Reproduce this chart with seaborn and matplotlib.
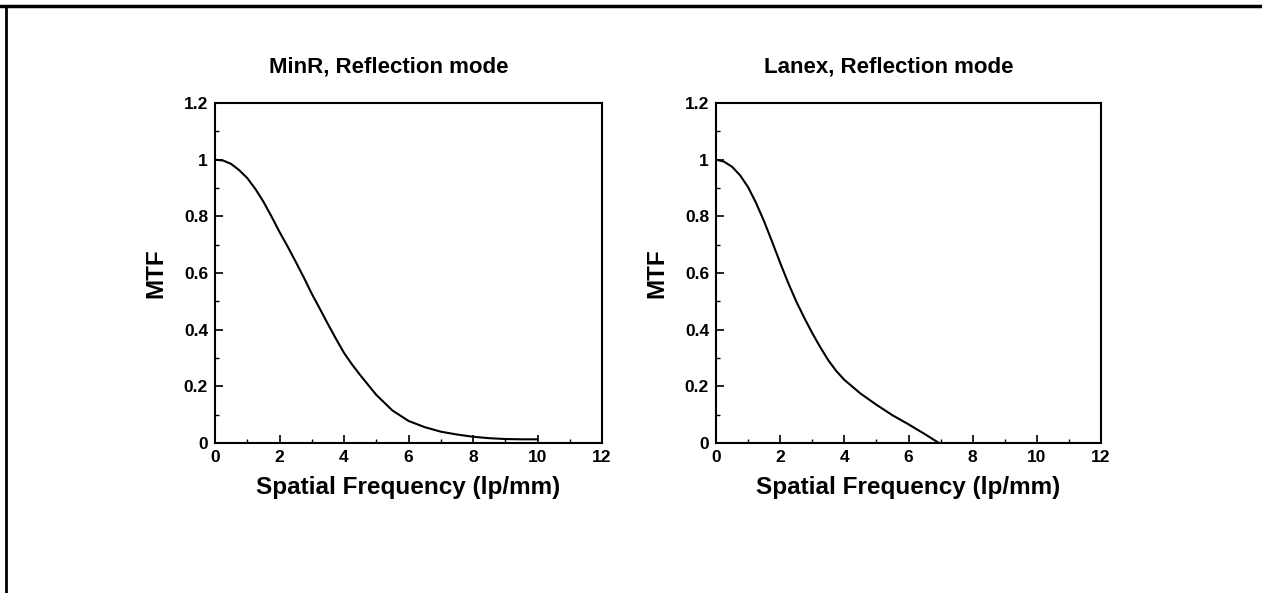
import numpy as np
import pandas as pd
import matplotlib.pyplot as plt
from matplotlib.lines import Line2D
from matplotlib.ticker import MultipleLocator
import seaborn as sns

# values
minr_freq = [0, 0.25, 0.5, 0.75, 1.0, 1.25, 1.5, 1.75, 2.0, 2.25, 2.5, 2.75, 3.0, 3.25, 3.5, 3.75,
             4.0, 4.25, 4.5, 5.0, 5.5, 6.0, 6.5, 7.0, 7.5, 8.0, 8.5, 9.0, 9.5, 10.0]
minr_mtf = [1.0, 0.997, 0.985, 0.963, 0.935, 0.897, 0.852, 0.80, 0.745, 0.694, 0.64, 0.585, 0.527,
            0.474, 0.42, 0.368, 0.318, 0.277, 0.24, 0.17, 0.115, 0.078, 0.056, 0.040, 0.030, 0.022,
            0.017, 0.014, 0.013, 0.013]

lanex_freq = [0, 0.25, 0.5, 0.75, 1.0, 1.25, 1.5, 1.75, 2.0, 2.25, 2.5, 2.75, 3.0, 3.25, 3.5, 3.75,
              4.0, 4.5, 5.0, 5.5, 6.0, 6.5, 6.95]
lanex_mtf = [1.0, 0.993, 0.975, 0.945, 0.903, 0.847, 0.782, 0.71, 0.636, 0.565, 0.50, 0.442, 0.388,
             0.338, 0.292, 0.254, 0.223, 0.175, 0.135, 0.098, 0.066, 0.032, 0.0]

titles = ["MinR, Reflection mode", "Lanex, Reflection mode"]
xlabel = "Spatial Frequency (lp/mm)"
ylabel = "MTF"

sns.set_theme(style="white")
plt.rcParams['font.family'] = ['Liberation Sans', 'DejaVu Sans']
plt.rcParams['font.weight'] = 'bold'
plt.rcParams['text.color'] = 'black'
plt.rcParams['axes.labelcolor'] = 'black'
plt.rcParams['xtick.color'] = 'black'
plt.rcParams['ytick.color'] = 'black'

fig = plt.figure(figsize=(12.62, 5.93), dpi=100)
ax1 = fig.add_axes([215 / 1262, 1 - 443 / 593, 387 / 1262, 340 / 593])
ax2 = fig.add_axes([716 / 1262, 1 - 443 / 593, 385 / 1262, 340 / 593])

datasets = [
    pd.DataFrame({"freq": minr_freq, "mtf": minr_mtf}),
    pd.DataFrame({"freq": lanex_freq, "mtf": lanex_mtf}),
]

for ax, df, title in zip([ax1, ax2], datasets, titles):
    sns.lineplot(data=df, x="freq", y="mtf", ax=ax, color="black", linewidth=1.5)
    ax.set_xlim(0, 12)
    ax.set_ylim(0, 1.2)
    ax.xaxis.set_major_locator(MultipleLocator(2))
    ax.xaxis.set_minor_locator(MultipleLocator(1))
    ax.yaxis.set_major_locator(MultipleLocator(0.2))
    ax.yaxis.set_minor_locator(MultipleLocator(0.1))
    ax.set_yticks([0, 0.2, 0.4, 0.6, 0.8, 1.0, 1.2])
    ax.set_yticklabels(["0", "0.2", "0.4", "0.6", "0.8", "1", "1.2"])
    ax.tick_params(which="both", direction="in", left=True, bottom=True, top=False, right=False,
                   labelsize=12.5, color="black", pad=5)
    ax.tick_params(which="major", length=6, width=1.2)
    ax.tick_params(which="minor", length=3, width=1)
    for lab in ax.get_xticklabels() + ax.get_yticklabels():
        lab.set_fontweight("bold")
    for s in ax.spines.values():
        s.set_color("black")
        s.set_linewidth(1.5)
    ax.set_xlabel(xlabel, fontsize=17.5, fontweight="bold", labelpad=8)
    ax.set_ylabel(ylabel, fontsize=17.5, fontweight="bold", labelpad=12)
    ax.set_title(title, fontsize=16, fontweight="bold", pad=22)
    ax.title.set_x(0.45)

# page frame: top and left edges
fig.add_artist(Line2D([0, 1], [1 - 6 / 593, 1 - 6 / 593], color="black", linewidth=2.5))
fig.add_artist(Line2D([6 / 1262, 6 / 1262], [0, 1 - 6 / 593], color="black", linewidth=2))

fig.savefig("out.png", dpi=100, facecolor="white")
